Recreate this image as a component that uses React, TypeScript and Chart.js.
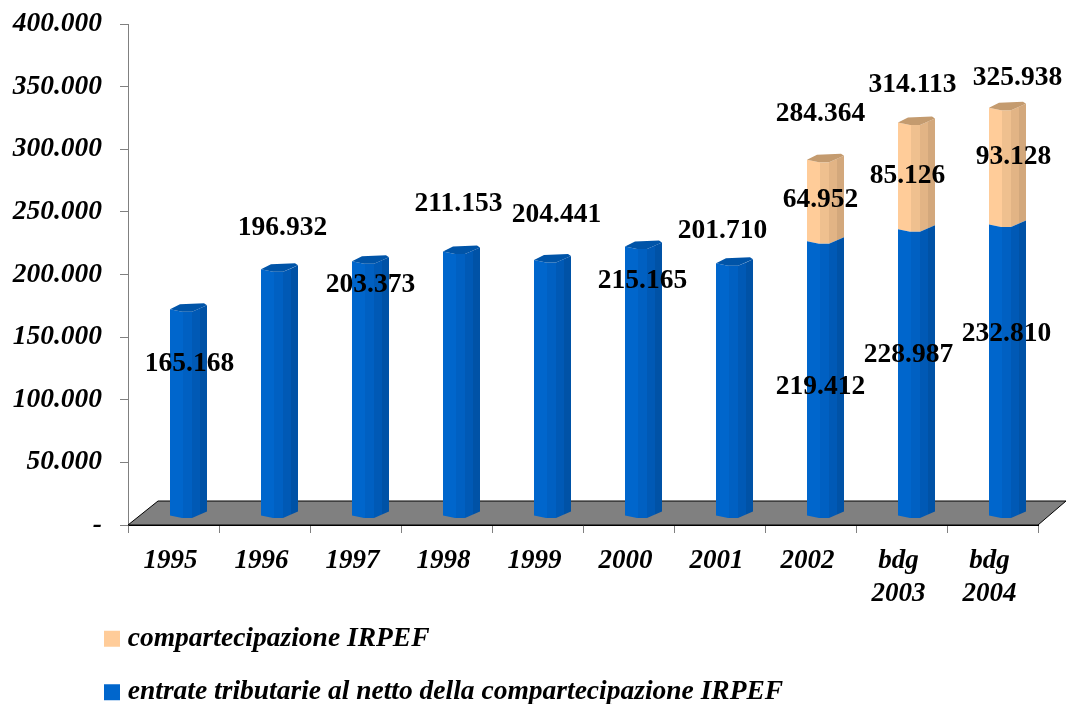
import React, { useEffect, useRef } from "react";
import { Chart, registerables } from "chart.js";

Chart.register(...registerables);

const categories: (string | string[])[] = ["1995", "1996", "1997", "1998", "1999", "2000", "2001", "2002", ["bdg", "2003"], ["bdg", "2004"]];
const baseSeries = [165168, 196932, 203373, 211153, 204441, 215165, 201710, 219412, 228987, 232810];
const shareSeries = [null, null, null, null, null, null, null, 64952, 85126, 93128];
const totals = [null, null, null, null, null, null, null, 284364, 314113, 325938];
const yTickValues = [0, 50000, 100000, 150000, 200000, 250000, 300000, 350000, 400000];
const baseName = "entrate tributarie al netto della compartecipazione IRPEF";
const shareName = "compartecipazione IRPEF";

// label layout: pixel offsets from the bar's top-centre
const baseLabelOffsets = [[16, 46], [18, -50], [15, 15], [12, -57], [19, -54], [14, 25], [3, -41], [10, 137], [7, 117], [14, 100]];
const shareLabelOffsets = [null, null, null, null, null, null, null, [10, 31], [6, 44], [21, 40]];
const totalLabelOffsets = [null, null, null, null, null, null, null, [10, -55], [11, -47], [25, -39]];

const FONT = '"Liberation Serif", serif';
const SHIFT_X = 15;
const LIFT_Y = 9;
const baseFacets = ["#0066CC", "#0060C2", "#0059B5", "#0052A6"];
const baseCap = "#0054A8";
const shareFacets = ["#FFCC99", "#EFC08F", "#E2B485", "#D3A87C"];
const shareCap = "#C49B6F";

const fmt = (v: number) => String(v).replace(/\B(?=(\d{3})+$)/g, ".");

const cylinder = {
  id: "cylinder",
  afterLayout(chart: any) {
    // legend sits under the axis, indented and a little higher than its box
    chart.legend.left = 84;
    chart.legend.top -= 11;
  },
  beforeDatasetsDraw(chart: any) {
    const { ctx, chartArea: a } = chart;
    ctx.save();
    ctx.beginPath();
    ctx.moveTo(a.left, a.bottom);
    ctx.lineTo(a.left + 30, a.bottom - 24);
    ctx.lineTo(a.right + 28, a.bottom - 24);
    ctx.lineTo(a.right, a.bottom);
    ctx.closePath();
    ctx.fillStyle = "#808080";
    ctx.fill();
    ctx.strokeStyle = "#000000";
    ctx.lineWidth = 1;
    ctx.stroke();
    ctx.restore();
  },
  beforeDatasetDraw(chart: any, args: any) {
    const { ctx } = chart;
    const i = args.index;
    const meta = args.meta;
    const facets = i === 0 ? baseFacets : shareFacets;
    const cap = i === 0 ? baseCap : shareCap;
    meta.data.forEach((el: any, n: number) => {
      const raw = chart.data.datasets[i].data[n];
      if (raw == null) return;
      const p = el.getProps(["x", "y", "base", "width"], true);
      const w = p.width;
      const x0 = p.x - w / 2 + SHIFT_X;
      const top = p.y - LIFT_Y;
      const bot = p.base - LIFT_Y;
      const stops = [0, 13 / 37, 22 / 37, 30 / 37, 1];
      const prof = (f: number) => {
        if (f <= 12 / 37) return (f / (12 / 37)) * 2.5;
        if (f <= 22 / 37) return 2.5;
        return 2.5 - ((f - 22 / 37) / (15 / 37)) * 6.5;
      };
      ctx.save();
      facets.forEach((c, k) => {
        const a0 = stops[k];
        const a1 = stops[k + 1];
        const pts = [a0, 12 / 37, 22 / 37, a1].filter((f) => f >= a0 && f <= a1);
        ctx.beginPath();
        pts.forEach((f, j) => {
          const x = x0 + f * w;
          const y = top + prof(f);
          if (j === 0) ctx.moveTo(x, y);
          else ctx.lineTo(x, y);
        });
        pts.slice().reverse().forEach((f) => ctx.lineTo(x0 + f * w, bot + prof(f)));
        ctx.closePath();
        ctx.fillStyle = c;
        ctx.fill();
      });
      const isTop = !chart.data.datasets.some((d: any, di: number) => di > i && d.data[n] != null);
      if (isTop) {
        ctx.beginPath();
        ctx.moveTo(x0, top);
        ctx.lineTo(x0 + (10 / 37) * w, top - 5);
        ctx.lineTo(x0 + (34 / 37) * w, top - 6);
        ctx.lineTo(x0 + w, top - 4);
        ctx.lineTo(x0 + (22 / 37) * w, top + 2.5);
        ctx.lineTo(x0 + (12 / 37) * w, top + 2.5);
        ctx.closePath();
        ctx.fillStyle = cap;
        ctx.fill();
      }
      ctx.restore();
    });
    return false;
  },
  afterDatasetsDraw(chart: any) {
    const { ctx } = chart;
    const text = (s: string, x: number, y: number) => ctx.fillText(s, x, y);
    ctx.save();
    ctx.font = `bold 27.5px ${FONT}`;
    ctx.fillStyle = "#000000";
    ctx.textAlign = "center";
    ctx.textBaseline = "middle";
    const m0 = chart.getDatasetMeta(0).data;
    const m1 = chart.getDatasetMeta(1).data;
    baseSeries.forEach((v, n) => {
      const o = baseLabelOffsets[n];
      text(fmt(v), m0[n].x + o[0], m0[n].y + o[1]);
    });
    shareSeries.forEach((v, n) => {
      const o = shareLabelOffsets[n];
      if (v == null || !o) return;
      text(fmt(v), m1[n].x + o[0], m1[n].y + o[1]);
    });
    totals.forEach((v, n) => {
      const o = totalLabelOffsets[n];
      if (v == null || !o) return;
      text(fmt(v), m1[n].x + o[0], m1[n].y + o[1]);
    });
    ctx.restore();
  },
};

export default function App() {
  const ref = useRef<HTMLCanvasElement>(null);
  useEffect(() => {
    const chart = new Chart(ref.current as HTMLCanvasElement, {
      type: "bar",
      data: {
        labels: categories,
        datasets: [
          { label: baseName, data: baseSeries, backgroundColor: "#0066CC", borderColor: "#0066CC", borderWidth: 12, barPercentage: 37 / 91, categoryPercentage: 1 },
          { label: shareName, data: shareSeries, backgroundColor: "#FFCC99", borderColor: "#FFCC99", borderWidth: 12, barPercentage: 37 / 91, categoryPercentage: 1 },
        ] as any,
      },
      plugins: [cylinder],
      options: {
        responsive: false,
        animation: false,
        layout: { padding: { left: 0, right: 29, top: 24, bottom: 0 } },
        plugins: {
          tooltip: { enabled: false },
          legend: {
            position: "bottom",
            align: "start",
            reverse: true,
            maxHeight: 94,
            labels: {
              boxWidth: 4,
              boxHeight: 4,
              padding: 26,
              color: "#000000",
              font: { family: FONT, size: 27.5, style: "italic", weight: "bold" },
            },
          },
        },
        scales: {
          x: {
            stacked: true,
            grid: { drawOnChartArea: false, color: "#808080", tickLength: 8 },
            border: { color: "#000000" },
            afterFit: (s: any) => { s.height = 85; },
            ticks: {
              color: "#000000",
              autoSkip: false,
              maxRotation: 0,
              labelOffset: -3,
              padding: 12,
              font: { family: FONT, size: 27, style: "italic", weight: "bold" },
            },
          },
          y: {
            stacked: true,
            min: 0,
            max: 400000,
            afterFit: (s: any) => { s.width = 128; s.paddingTop = 0; s.paddingBottom = 0; },
            afterBuildTicks: (s: any) => { s.ticks = yTickValues.map((value) => ({ value })); },
            grid: { drawOnChartArea: false, color: "#808080", tickLength: 8 },
            border: { color: "#808080" },
            ticks: {
              color: "#000000",
              padding: 18,
              callback: (v: any) => (v === 0 ? "-" : fmt(v)),
              font: { family: FONT, size: 27.5, style: "italic", weight: "bold" },
            },
          },
        },
      } as any,
    });
    return () => chart.destroy();
  }, []);
  return (
    <canvas
      ref={ref}
      width={1067}
      height={704}
      style={{ position: "absolute", left: 0, top: 0, width: 1067, height: 704, display: "block" }}
    />
  );
}
